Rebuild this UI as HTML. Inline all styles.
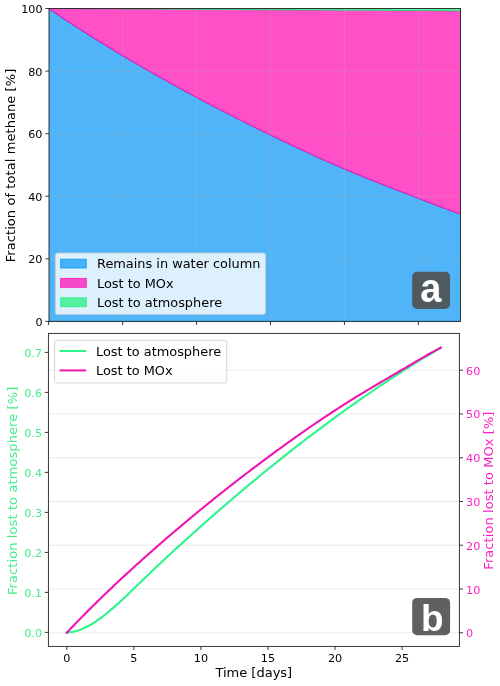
<!DOCTYPE html><html><head><meta charset="utf-8"><title>Methane fate</title><style>html,body{margin:0;padding:0;background:#fff;width:500px;height:686px;overflow:hidden}svg{display:block}text{font-family:'DejaVu Sans', 'Liberation Sans', sans-serif}</style></head><body>
<svg width="500" height="686" viewBox="0 0 500 686">
<rect x="0" y="0" width="500" height="686" fill="#fff"/>
<defs><clipPath id="ct"><rect x="49.0" y="8.5" width="411.50" height="312.90"/></clipPath></defs>
<g clip-path="url(#ct)">
<polygon fill="#0595f5" fill-opacity="0.7" stroke="#0595f5" stroke-opacity="0.7" stroke-width="1.1" stroke-linejoin="round" points="48.65,8.50 50.13,9.51 51.61,10.52 53.08,11.53 54.56,12.53 56.04,13.53 57.52,14.53 59.00,15.53 60.47,16.52 61.95,17.50 63.43,18.49 64.91,19.47 66.39,20.45 67.86,21.42 69.34,22.39 70.82,23.36 72.30,24.33 73.77,25.29 75.25,26.25 76.73,27.21 78.21,28.16 79.69,29.12 81.16,30.06 82.64,31.01 84.12,31.95 85.60,32.89 87.08,33.83 88.55,34.77 90.03,35.70 91.51,36.63 92.99,37.55 94.47,38.48 95.94,39.40 97.42,40.32 98.90,41.24 100.38,42.15 101.86,43.06 103.33,43.97 104.81,44.88 106.29,45.78 107.77,46.68 109.25,47.58 110.72,48.48 112.20,49.38 113.68,50.27 115.16,51.16 116.64,52.05 118.11,52.94 119.59,53.82 121.07,54.70 122.55,55.58 124.02,56.46 125.50,57.34 126.98,58.21 128.46,59.09 129.94,59.96 131.41,60.83 132.89,61.69 134.37,62.56 135.85,63.42 137.33,64.28 138.80,65.14 140.28,66.00 141.76,66.86 143.24,67.71 144.72,68.56 146.19,69.41 147.67,70.26 149.15,71.11 150.63,71.95 152.11,72.80 153.58,73.64 155.06,74.48 156.54,75.32 158.02,76.15 159.50,76.99 160.97,77.82 162.45,78.65 163.93,79.48 165.41,80.31 166.89,81.14 168.36,81.96 169.84,82.78 171.32,83.61 172.80,84.43 174.27,85.24 175.75,86.06 177.23,86.87 178.71,87.69 180.19,88.50 181.66,89.31 183.14,90.11 184.62,90.92 186.10,91.73 187.58,92.53 189.05,93.33 190.53,94.13 192.01,94.93 193.49,95.72 194.97,96.52 196.44,97.31 197.92,98.10 199.40,98.89 200.88,99.68 202.36,100.47 203.83,101.25 205.31,102.04 206.79,102.82 208.27,103.60 209.75,104.38 211.22,105.16 212.70,105.93 214.18,106.71 215.66,107.48 217.14,108.25 218.61,109.02 220.09,109.79 221.57,110.55 223.05,111.32 224.52,112.08 226.00,112.84 227.48,113.60 228.96,114.36 230.44,115.12 231.91,115.88 233.39,116.63 234.87,117.38 236.35,118.14 237.83,118.89 239.30,119.63 240.78,120.38 242.26,121.13 243.74,121.87 245.22,122.61 246.69,123.36 248.17,124.10 249.65,124.83 251.13,125.57 252.61,126.31 254.08,127.04 255.56,127.77 257.04,128.50 258.52,129.23 260.00,129.96 261.47,130.69 262.95,131.42 264.43,132.14 265.91,132.86 267.39,133.59 268.86,134.31 270.34,135.02 271.82,135.74 273.30,136.46 274.77,137.17 276.25,137.89 277.73,138.60 279.21,139.31 280.69,140.02 282.16,140.73 283.64,141.43 285.12,142.14 286.60,142.84 288.08,143.54 289.55,144.24 291.03,144.94 292.51,145.64 293.99,146.33 295.47,147.02 296.94,147.72 298.42,148.41 299.90,149.10 301.38,149.78 302.86,150.47 304.33,151.15 305.81,151.83 307.29,152.51 308.77,153.19 310.25,153.87 311.72,154.55 313.20,155.22 314.68,155.89 316.16,156.56 317.64,157.23 319.11,157.89 320.59,158.56 322.07,159.22 323.55,159.88 325.02,160.54 326.50,161.19 327.98,161.85 329.46,162.50 330.94,163.15 332.41,163.80 333.89,164.45 335.37,165.09 336.85,165.73 338.33,166.37 339.80,167.01 341.28,167.65 342.76,168.28 344.24,168.92 345.72,169.55 347.19,170.17 348.67,170.80 350.15,171.42 351.63,172.04 353.11,172.66 354.58,173.28 356.06,173.89 357.54,174.51 359.02,175.12 360.50,175.72 361.97,176.33 363.45,176.93 364.93,177.53 366.41,178.13 367.88,178.73 369.36,179.32 370.84,179.91 372.32,180.50 373.80,181.09 375.27,181.68 376.75,182.26 378.23,182.84 379.71,183.43 381.19,184.00 382.66,184.58 384.14,185.16 385.62,185.73 387.10,186.31 388.58,186.88 390.05,187.45 391.53,188.02 393.01,188.59 394.49,189.16 395.97,189.73 397.44,190.30 398.92,190.87 400.40,191.44 401.88,192.00 403.36,192.57 404.83,193.14 406.31,193.71 407.79,194.28 409.27,194.84 410.75,195.41 412.22,195.98 413.70,196.55 415.18,197.12 416.66,197.69 418.13,198.26 419.61,198.83 421.09,199.41 422.57,199.98 424.05,200.55 425.52,201.13 427.00,201.70 428.48,202.28 429.96,202.85 431.44,203.42 432.91,203.99 434.39,204.56 435.87,205.13 437.35,205.69 438.83,206.25 440.30,206.81 441.78,207.37 443.26,207.93 444.74,208.48 446.22,209.03 447.69,209.57 449.17,210.11 450.65,210.65 452.13,211.18 453.61,211.71 455.08,212.23 456.56,212.75 458.04,213.26 459.52,213.77 461.00,214.27 462.50,214.27 462.50,321.40 47.00,321.40"/>
<polygon fill="#ff05b0" fill-opacity="0.7" stroke="#ff05b0" stroke-opacity="0.7" stroke-width="1.1" stroke-linejoin="round" points="48.65,8.50 50.13,8.50 51.61,8.50 53.08,8.50 54.56,8.50 56.04,8.51 57.52,8.51 59.00,8.51 60.47,8.51 61.95,8.52 63.43,8.52 64.91,8.53 66.39,8.53 67.86,8.53 69.34,8.54 70.82,8.54 72.30,8.55 73.77,8.56 75.25,8.56 76.73,8.57 78.21,8.57 79.69,8.58 81.16,8.59 82.64,8.60 84.12,8.60 85.60,8.61 87.08,8.62 88.55,8.63 90.03,8.63 91.51,8.64 92.99,8.65 94.47,8.66 95.94,8.67 97.42,8.68 98.90,8.69 100.38,8.69 101.86,8.70 103.33,8.71 104.81,8.72 106.29,8.73 107.77,8.74 109.25,8.75 110.72,8.76 112.20,8.77 113.68,8.78 115.16,8.79 116.64,8.80 118.11,8.81 119.59,8.82 121.07,8.83 122.55,8.84 124.02,8.85 125.50,8.86 126.98,8.87 128.46,8.88 129.94,8.89 131.41,8.90 132.89,8.91 134.37,8.92 135.85,8.93 137.33,8.94 138.80,8.95 140.28,8.96 141.76,8.97 143.24,8.98 144.72,8.99 146.19,9.00 147.67,9.01 149.15,9.02 150.63,9.03 152.11,9.04 153.58,9.05 155.06,9.06 156.54,9.07 158.02,9.08 159.50,9.09 160.97,9.10 162.45,9.11 163.93,9.12 165.41,9.13 166.89,9.14 168.36,9.15 169.84,9.16 171.32,9.17 172.80,9.18 174.27,9.19 175.75,9.20 177.23,9.21 178.71,9.22 180.19,9.23 181.66,9.24 183.14,9.25 184.62,9.25 186.10,9.26 187.58,9.27 189.05,9.28 190.53,9.29 192.01,9.30 193.49,9.31 194.97,9.32 196.44,9.33 197.92,9.34 199.40,9.35 200.88,9.36 202.36,9.37 203.83,9.38 205.31,9.39 206.79,9.39 208.27,9.40 209.75,9.41 211.22,9.42 212.70,9.43 214.18,9.44 215.66,9.45 217.14,9.46 218.61,9.47 220.09,9.48 221.57,9.49 223.05,9.49 224.52,9.50 226.00,9.51 227.48,9.52 228.96,9.53 230.44,9.54 231.91,9.55 233.39,9.56 234.87,9.57 236.35,9.58 237.83,9.58 239.30,9.59 240.78,9.60 242.26,9.61 243.74,9.62 245.22,9.63 246.69,9.64 248.17,9.65 249.65,9.65 251.13,9.66 252.61,9.67 254.08,9.68 255.56,9.69 257.04,9.70 258.52,9.71 260.00,9.72 261.47,9.72 262.95,9.73 264.43,9.74 265.91,9.75 267.39,9.76 268.86,9.77 270.34,9.78 271.82,9.78 273.30,9.79 274.77,9.80 276.25,9.81 277.73,9.82 279.21,9.83 280.69,9.83 282.16,9.84 283.64,9.85 285.12,9.86 286.60,9.87 288.08,9.88 289.55,9.88 291.03,9.89 292.51,9.90 293.99,9.91 295.47,9.92 296.94,9.93 298.42,9.93 299.90,9.94 301.38,9.95 302.86,9.96 304.33,9.97 305.81,9.98 307.29,9.98 308.77,9.99 310.25,10.00 311.72,10.01 313.20,10.02 314.68,10.02 316.16,10.03 317.64,10.04 319.11,10.05 320.59,10.06 322.07,10.06 323.55,10.07 325.02,10.08 326.50,10.09 327.98,10.09 329.46,10.10 330.94,10.11 332.41,10.12 333.89,10.13 335.37,10.13 336.85,10.14 338.33,10.15 339.80,10.16 341.28,10.16 342.76,10.17 344.24,10.18 345.72,10.19 347.19,10.20 348.67,10.20 350.15,10.21 351.63,10.22 353.11,10.23 354.58,10.23 356.06,10.24 357.54,10.25 359.02,10.26 360.50,10.26 361.97,10.27 363.45,10.28 364.93,10.29 366.41,10.29 367.88,10.30 369.36,10.31 370.84,10.31 372.32,10.32 373.80,10.33 375.27,10.34 376.75,10.34 378.23,10.35 379.71,10.36 381.19,10.37 382.66,10.37 384.14,10.38 385.62,10.39 387.10,10.39 388.58,10.40 390.05,10.41 391.53,10.42 393.01,10.42 394.49,10.43 395.97,10.44 397.44,10.44 398.92,10.45 400.40,10.46 401.88,10.46 403.36,10.47 404.83,10.48 406.31,10.49 407.79,10.49 409.27,10.50 410.75,10.51 412.22,10.51 413.70,10.52 415.18,10.53 416.66,10.53 418.13,10.54 419.61,10.55 421.09,10.55 422.57,10.56 424.05,10.57 425.52,10.57 427.00,10.58 428.48,10.59 429.96,10.59 431.44,10.60 432.91,10.61 434.39,10.61 435.87,10.62 437.35,10.63 438.83,10.63 440.30,10.64 441.78,10.64 443.26,10.65 444.74,10.66 446.22,10.66 447.69,10.67 449.17,10.68 450.65,10.68 452.13,10.69 453.61,10.70 455.08,10.70 456.56,10.71 458.04,10.71 459.52,10.72 461.00,10.73 461.00,214.27 459.52,213.77 458.04,213.26 456.56,212.75 455.08,212.23 453.61,211.71 452.13,211.18 450.65,210.65 449.17,210.11 447.69,209.57 446.22,209.03 444.74,208.48 443.26,207.93 441.78,207.37 440.30,206.81 438.83,206.25 437.35,205.69 435.87,205.13 434.39,204.56 432.91,203.99 431.44,203.42 429.96,202.85 428.48,202.28 427.00,201.70 425.52,201.13 424.05,200.55 422.57,199.98 421.09,199.41 419.61,198.83 418.13,198.26 416.66,197.69 415.18,197.12 413.70,196.55 412.22,195.98 410.75,195.41 409.27,194.84 407.79,194.28 406.31,193.71 404.83,193.14 403.36,192.57 401.88,192.00 400.40,191.44 398.92,190.87 397.44,190.30 395.97,189.73 394.49,189.16 393.01,188.59 391.53,188.02 390.05,187.45 388.58,186.88 387.10,186.31 385.62,185.73 384.14,185.16 382.66,184.58 381.19,184.00 379.71,183.43 378.23,182.84 376.75,182.26 375.27,181.68 373.80,181.09 372.32,180.50 370.84,179.91 369.36,179.32 367.88,178.73 366.41,178.13 364.93,177.53 363.45,176.93 361.97,176.33 360.50,175.72 359.02,175.12 357.54,174.51 356.06,173.89 354.58,173.28 353.11,172.66 351.63,172.04 350.15,171.42 348.67,170.80 347.19,170.17 345.72,169.55 344.24,168.92 342.76,168.28 341.28,167.65 339.80,167.01 338.33,166.37 336.85,165.73 335.37,165.09 333.89,164.45 332.41,163.80 330.94,163.15 329.46,162.50 327.98,161.85 326.50,161.19 325.02,160.54 323.55,159.88 322.07,159.22 320.59,158.56 319.11,157.89 317.64,157.23 316.16,156.56 314.68,155.89 313.20,155.22 311.72,154.55 310.25,153.87 308.77,153.19 307.29,152.51 305.81,151.83 304.33,151.15 302.86,150.47 301.38,149.78 299.90,149.10 298.42,148.41 296.94,147.72 295.47,147.02 293.99,146.33 292.51,145.64 291.03,144.94 289.55,144.24 288.08,143.54 286.60,142.84 285.12,142.14 283.64,141.43 282.16,140.73 280.69,140.02 279.21,139.31 277.73,138.60 276.25,137.89 274.77,137.17 273.30,136.46 271.82,135.74 270.34,135.02 268.86,134.31 267.39,133.59 265.91,132.86 264.43,132.14 262.95,131.42 261.47,130.69 260.00,129.96 258.52,129.23 257.04,128.50 255.56,127.77 254.08,127.04 252.61,126.31 251.13,125.57 249.65,124.83 248.17,124.10 246.69,123.36 245.22,122.61 243.74,121.87 242.26,121.13 240.78,120.38 239.30,119.63 237.83,118.89 236.35,118.14 234.87,117.38 233.39,116.63 231.91,115.88 230.44,115.12 228.96,114.36 227.48,113.60 226.00,112.84 224.52,112.08 223.05,111.32 221.57,110.55 220.09,109.79 218.61,109.02 217.14,108.25 215.66,107.48 214.18,106.71 212.70,105.93 211.22,105.16 209.75,104.38 208.27,103.60 206.79,102.82 205.31,102.04 203.83,101.25 202.36,100.47 200.88,99.68 199.40,98.89 197.92,98.10 196.44,97.31 194.97,96.52 193.49,95.72 192.01,94.93 190.53,94.13 189.05,93.33 187.58,92.53 186.10,91.73 184.62,90.92 183.14,90.11 181.66,89.31 180.19,88.50 178.71,87.69 177.23,86.87 175.75,86.06 174.27,85.24 172.80,84.43 171.32,83.61 169.84,82.78 168.36,81.96 166.89,81.14 165.41,80.31 163.93,79.48 162.45,78.65 160.97,77.82 159.50,76.99 158.02,76.15 156.54,75.32 155.06,74.48 153.58,73.64 152.11,72.80 150.63,71.95 149.15,71.11 147.67,70.26 146.19,69.41 144.72,68.56 143.24,67.71 141.76,66.86 140.28,66.00 138.80,65.14 137.33,64.28 135.85,63.42 134.37,62.56 132.89,61.69 131.41,60.83 129.94,59.96 128.46,59.09 126.98,58.21 125.50,57.34 124.02,56.46 122.55,55.58 121.07,54.70 119.59,53.82 118.11,52.94 116.64,52.05 115.16,51.16 113.68,50.27 112.20,49.38 110.72,48.48 109.25,47.58 107.77,46.68 106.29,45.78 104.81,44.88 103.33,43.97 101.86,43.06 100.38,42.15 98.90,41.24 97.42,40.32 95.94,39.40 94.47,38.48 92.99,37.55 91.51,36.63 90.03,35.70 88.55,34.77 87.08,33.83 85.60,32.89 84.12,31.95 82.64,31.01 81.16,30.06 79.69,29.12 78.21,28.16 76.73,27.21 75.25,26.25 73.77,25.29 72.30,24.33 70.82,23.36 69.34,22.39 67.86,21.42 66.39,20.45 64.91,19.47 63.43,18.49 61.95,17.50 60.47,16.52 59.00,15.53 57.52,14.53 56.04,13.53 54.56,12.53 53.08,11.53 51.61,10.52 50.13,9.51 48.65,8.50"/>
<polygon fill="#19ef7a" fill-opacity="0.7" stroke="#19ef7a" stroke-opacity="0.7" stroke-width="1.1" stroke-linejoin="round" points="48.65,8.50 50.13,8.50 51.61,8.50 53.08,8.50 54.56,8.50 56.04,8.51 57.52,8.51 59.00,8.51 60.47,8.51 61.95,8.52 63.43,8.52 64.91,8.53 66.39,8.53 67.86,8.53 69.34,8.54 70.82,8.54 72.30,8.55 73.77,8.56 75.25,8.56 76.73,8.57 78.21,8.57 79.69,8.58 81.16,8.59 82.64,8.60 84.12,8.60 85.60,8.61 87.08,8.62 88.55,8.63 90.03,8.63 91.51,8.64 92.99,8.65 94.47,8.66 95.94,8.67 97.42,8.68 98.90,8.69 100.38,8.69 101.86,8.70 103.33,8.71 104.81,8.72 106.29,8.73 107.77,8.74 109.25,8.75 110.72,8.76 112.20,8.77 113.68,8.78 115.16,8.79 116.64,8.80 118.11,8.81 119.59,8.82 121.07,8.83 122.55,8.84 124.02,8.85 125.50,8.86 126.98,8.87 128.46,8.88 129.94,8.89 131.41,8.90 132.89,8.91 134.37,8.92 135.85,8.93 137.33,8.94 138.80,8.95 140.28,8.96 141.76,8.97 143.24,8.98 144.72,8.99 146.19,9.00 147.67,9.01 149.15,9.02 150.63,9.03 152.11,9.04 153.58,9.05 155.06,9.06 156.54,9.07 158.02,9.08 159.50,9.09 160.97,9.10 162.45,9.11 163.93,9.12 165.41,9.13 166.89,9.14 168.36,9.15 169.84,9.16 171.32,9.17 172.80,9.18 174.27,9.19 175.75,9.20 177.23,9.21 178.71,9.22 180.19,9.23 181.66,9.24 183.14,9.25 184.62,9.25 186.10,9.26 187.58,9.27 189.05,9.28 190.53,9.29 192.01,9.30 193.49,9.31 194.97,9.32 196.44,9.33 197.92,9.34 199.40,9.35 200.88,9.36 202.36,9.37 203.83,9.38 205.31,9.39 206.79,9.39 208.27,9.40 209.75,9.41 211.22,9.42 212.70,9.43 214.18,9.44 215.66,9.45 217.14,9.46 218.61,9.47 220.09,9.48 221.57,9.49 223.05,9.49 224.52,9.50 226.00,9.51 227.48,9.52 228.96,9.53 230.44,9.54 231.91,9.55 233.39,9.56 234.87,9.57 236.35,9.58 237.83,9.58 239.30,9.59 240.78,9.60 242.26,9.61 243.74,9.62 245.22,9.63 246.69,9.64 248.17,9.65 249.65,9.65 251.13,9.66 252.61,9.67 254.08,9.68 255.56,9.69 257.04,9.70 258.52,9.71 260.00,9.72 261.47,9.72 262.95,9.73 264.43,9.74 265.91,9.75 267.39,9.76 268.86,9.77 270.34,9.78 271.82,9.78 273.30,9.79 274.77,9.80 276.25,9.81 277.73,9.82 279.21,9.83 280.69,9.83 282.16,9.84 283.64,9.85 285.12,9.86 286.60,9.87 288.08,9.88 289.55,9.88 291.03,9.89 292.51,9.90 293.99,9.91 295.47,9.92 296.94,9.93 298.42,9.93 299.90,9.94 301.38,9.95 302.86,9.96 304.33,9.97 305.81,9.98 307.29,9.98 308.77,9.99 310.25,10.00 311.72,10.01 313.20,10.02 314.68,10.02 316.16,10.03 317.64,10.04 319.11,10.05 320.59,10.06 322.07,10.06 323.55,10.07 325.02,10.08 326.50,10.09 327.98,10.09 329.46,10.10 330.94,10.11 332.41,10.12 333.89,10.13 335.37,10.13 336.85,10.14 338.33,10.15 339.80,10.16 341.28,10.16 342.76,10.17 344.24,10.18 345.72,10.19 347.19,10.20 348.67,10.20 350.15,10.21 351.63,10.22 353.11,10.23 354.58,10.23 356.06,10.24 357.54,10.25 359.02,10.26 360.50,10.26 361.97,10.27 363.45,10.28 364.93,10.29 366.41,10.29 367.88,10.30 369.36,10.31 370.84,10.31 372.32,10.32 373.80,10.33 375.27,10.34 376.75,10.34 378.23,10.35 379.71,10.36 381.19,10.37 382.66,10.37 384.14,10.38 385.62,10.39 387.10,10.39 388.58,10.40 390.05,10.41 391.53,10.42 393.01,10.42 394.49,10.43 395.97,10.44 397.44,10.44 398.92,10.45 400.40,10.46 401.88,10.46 403.36,10.47 404.83,10.48 406.31,10.49 407.79,10.49 409.27,10.50 410.75,10.51 412.22,10.51 413.70,10.52 415.18,10.53 416.66,10.53 418.13,10.54 419.61,10.55 421.09,10.55 422.57,10.56 424.05,10.57 425.52,10.57 427.00,10.58 428.48,10.59 429.96,10.59 431.44,10.60 432.91,10.61 434.39,10.61 435.87,10.62 437.35,10.63 438.83,10.63 440.30,10.64 441.78,10.64 443.26,10.65 444.74,10.66 446.22,10.66 447.69,10.67 449.17,10.68 450.65,10.68 452.13,10.69 453.61,10.70 455.08,10.70 456.56,10.71 458.04,10.71 459.52,10.72 461.00,10.73 461.00,8.50 459.52,8.50 458.04,8.50 456.56,8.50 455.08,8.50 453.61,8.50 452.13,8.50 450.65,8.50 449.17,8.50 447.69,8.50 446.22,8.50 444.74,8.50 443.26,8.50 441.78,8.50 440.30,8.50 438.83,8.50 437.35,8.50 435.87,8.50 434.39,8.50 432.91,8.50 431.44,8.50 429.96,8.50 428.48,8.50 427.00,8.50 425.52,8.50 424.05,8.50 422.57,8.50 421.09,8.50 419.61,8.50 418.13,8.50 416.66,8.50 415.18,8.50 413.70,8.50 412.22,8.50 410.75,8.50 409.27,8.50 407.79,8.50 406.31,8.50 404.83,8.50 403.36,8.50 401.88,8.50 400.40,8.50 398.92,8.50 397.44,8.50 395.97,8.50 394.49,8.50 393.01,8.50 391.53,8.50 390.05,8.50 388.58,8.50 387.10,8.50 385.62,8.50 384.14,8.50 382.66,8.50 381.19,8.50 379.71,8.50 378.23,8.50 376.75,8.50 375.27,8.50 373.80,8.50 372.32,8.50 370.84,8.50 369.36,8.50 367.88,8.50 366.41,8.50 364.93,8.50 363.45,8.50 361.97,8.50 360.50,8.50 359.02,8.50 357.54,8.50 356.06,8.50 354.58,8.50 353.11,8.50 351.63,8.50 350.15,8.50 348.67,8.50 347.19,8.50 345.72,8.50 344.24,8.50 342.76,8.50 341.28,8.50 339.80,8.50 338.33,8.50 336.85,8.50 335.37,8.50 333.89,8.50 332.41,8.50 330.94,8.50 329.46,8.50 327.98,8.50 326.50,8.50 325.02,8.50 323.55,8.50 322.07,8.50 320.59,8.50 319.11,8.50 317.64,8.50 316.16,8.50 314.68,8.50 313.20,8.50 311.72,8.50 310.25,8.50 308.77,8.50 307.29,8.50 305.81,8.50 304.33,8.50 302.86,8.50 301.38,8.50 299.90,8.50 298.42,8.50 296.94,8.50 295.47,8.50 293.99,8.50 292.51,8.50 291.03,8.50 289.55,8.50 288.08,8.50 286.60,8.50 285.12,8.50 283.64,8.50 282.16,8.50 280.69,8.50 279.21,8.50 277.73,8.50 276.25,8.50 274.77,8.50 273.30,8.50 271.82,8.50 270.34,8.50 268.86,8.50 267.39,8.50 265.91,8.50 264.43,8.50 262.95,8.50 261.47,8.50 260.00,8.50 258.52,8.50 257.04,8.50 255.56,8.50 254.08,8.50 252.61,8.50 251.13,8.50 249.65,8.50 248.17,8.50 246.69,8.50 245.22,8.50 243.74,8.50 242.26,8.50 240.78,8.50 239.30,8.50 237.83,8.50 236.35,8.50 234.87,8.50 233.39,8.50 231.91,8.50 230.44,8.50 228.96,8.50 227.48,8.50 226.00,8.50 224.52,8.50 223.05,8.50 221.57,8.50 220.09,8.50 218.61,8.50 217.14,8.50 215.66,8.50 214.18,8.50 212.70,8.50 211.22,8.50 209.75,8.50 208.27,8.50 206.79,8.50 205.31,8.50 203.83,8.50 202.36,8.50 200.88,8.50 199.40,8.50 197.92,8.50 196.44,8.50 194.97,8.50 193.49,8.50 192.01,8.50 190.53,8.50 189.05,8.50 187.58,8.50 186.10,8.50 184.62,8.50 183.14,8.50 181.66,8.50 180.19,8.50 178.71,8.50 177.23,8.50 175.75,8.50 174.27,8.50 172.80,8.50 171.32,8.50 169.84,8.50 168.36,8.50 166.89,8.50 165.41,8.50 163.93,8.50 162.45,8.50 160.97,8.50 159.50,8.50 158.02,8.50 156.54,8.50 155.06,8.50 153.58,8.50 152.11,8.50 150.63,8.50 149.15,8.50 147.67,8.50 146.19,8.50 144.72,8.50 143.24,8.50 141.76,8.50 140.28,8.50 138.80,8.50 137.33,8.50 135.85,8.50 134.37,8.50 132.89,8.50 131.41,8.50 129.94,8.50 128.46,8.50 126.98,8.50 125.50,8.50 124.02,8.50 122.55,8.50 121.07,8.50 119.59,8.50 118.11,8.50 116.64,8.50 115.16,8.50 113.68,8.50 112.20,8.50 110.72,8.50 109.25,8.50 107.77,8.50 106.29,8.50 104.81,8.50 103.33,8.50 101.86,8.50 100.38,8.50 98.90,8.50 97.42,8.50 95.94,8.50 94.47,8.50 92.99,8.50 91.51,8.50 90.03,8.50 88.55,8.50 87.08,8.50 85.60,8.50 84.12,8.50 82.64,8.50 81.16,8.50 79.69,8.50 78.21,8.50 76.73,8.50 75.25,8.50 73.77,8.50 72.30,8.50 70.82,8.50 69.34,8.50 67.86,8.50 66.39,8.50 64.91,8.50 63.43,8.50 61.95,8.50 60.47,8.50 59.00,8.50 57.52,8.50 56.04,8.50 54.56,8.50 53.08,8.50 51.61,8.50 50.13,8.50 48.65,8.50"/>
<line x1="48.65" y1="8.5" x2="48.65" y2="321.4" stroke="#b0b0b0" stroke-opacity="0.3" stroke-width="0.9"/>
<line x1="122.60" y1="8.5" x2="122.60" y2="321.4" stroke="#b0b0b0" stroke-opacity="0.3" stroke-width="0.9"/>
<line x1="196.55" y1="8.5" x2="196.55" y2="321.4" stroke="#b0b0b0" stroke-opacity="0.3" stroke-width="0.9"/>
<line x1="270.50" y1="8.5" x2="270.50" y2="321.4" stroke="#b0b0b0" stroke-opacity="0.3" stroke-width="0.9"/>
<line x1="344.45" y1="8.5" x2="344.45" y2="321.4" stroke="#b0b0b0" stroke-opacity="0.3" stroke-width="0.9"/>
<line x1="418.40" y1="8.5" x2="418.40" y2="321.4" stroke="#b0b0b0" stroke-opacity="0.3" stroke-width="0.9"/>
<line x1="49.0" y1="321.40" x2="460.5" y2="321.40" stroke="#b0b0b0" stroke-opacity="0.3" stroke-width="0.9"/>
<line x1="49.0" y1="258.82" x2="460.5" y2="258.82" stroke="#b0b0b0" stroke-opacity="0.3" stroke-width="0.9"/>
<line x1="49.0" y1="196.24" x2="460.5" y2="196.24" stroke="#b0b0b0" stroke-opacity="0.3" stroke-width="0.9"/>
<line x1="49.0" y1="133.66" x2="460.5" y2="133.66" stroke="#b0b0b0" stroke-opacity="0.3" stroke-width="0.9"/>
<line x1="49.0" y1="71.08" x2="460.5" y2="71.08" stroke="#b0b0b0" stroke-opacity="0.3" stroke-width="0.9"/>
<line x1="49.0" y1="8.50" x2="460.5" y2="8.50" stroke="#b0b0b0" stroke-opacity="0.3" stroke-width="0.9"/>
</g>
<g>
<rect x="55.3" y="253.1" width="210.2" height="61.3" rx="2.5" fill="#fff" fill-opacity="0.8" stroke="#ccc" stroke-opacity="0.8" stroke-width="1"/>
<rect x="60.6" y="259.20" width="25.7" height="8.8" fill="#0595f5" fill-opacity="0.7" stroke="#0595f5" stroke-opacity="0.7" stroke-width="1.1"/>
<text x="97.0" y="268.20" font-size="12.9" fill="#000">Remains in water column</text>
<rect x="60.6" y="278.50" width="25.7" height="8.8" fill="#ff05b0" fill-opacity="0.7" stroke="#ff05b0" stroke-opacity="0.7" stroke-width="1.1"/>
<text x="97.0" y="287.50" font-size="12.9" fill="#000">Lost to MOx</text>
<rect x="60.6" y="297.80" width="25.7" height="8.8" fill="#19ef7a" fill-opacity="0.7" stroke="#19ef7a" stroke-opacity="0.7" stroke-width="1.1"/>
<text x="97.0" y="306.80" font-size="12.9" fill="#000">Lost to atmosphere</text>
</g>
<rect x="49.0" y="8.5" width="411.50" height="312.90" fill="none" stroke="#222" stroke-width="0.9"/>
<line x1="48.65" y1="321.4" x2="48.65" y2="325.00" stroke="#222" stroke-width="0.9"/>
<line x1="122.60" y1="321.4" x2="122.60" y2="325.00" stroke="#222" stroke-width="0.9"/>
<line x1="196.55" y1="321.4" x2="196.55" y2="325.00" stroke="#222" stroke-width="0.9"/>
<line x1="270.50" y1="321.4" x2="270.50" y2="325.00" stroke="#222" stroke-width="0.9"/>
<line x1="344.45" y1="321.4" x2="344.45" y2="325.00" stroke="#222" stroke-width="0.9"/>
<line x1="418.40" y1="321.4" x2="418.40" y2="325.00" stroke="#222" stroke-width="0.9"/>
<line x1="45.40" y1="321.40" x2="49.0" y2="321.40" stroke="#222" stroke-width="0.9"/>
<text x="42.5" y="325.90" font-size="11.2" text-anchor="end" fill="#000">0</text>
<line x1="45.40" y1="258.82" x2="49.0" y2="258.82" stroke="#222" stroke-width="0.9"/>
<text x="42.5" y="263.32" font-size="11.2" text-anchor="end" fill="#000">20</text>
<line x1="45.40" y1="196.24" x2="49.0" y2="196.24" stroke="#222" stroke-width="0.9"/>
<text x="42.5" y="200.74" font-size="11.2" text-anchor="end" fill="#000">40</text>
<line x1="45.40" y1="133.66" x2="49.0" y2="133.66" stroke="#222" stroke-width="0.9"/>
<text x="42.5" y="138.16" font-size="11.2" text-anchor="end" fill="#000">60</text>
<line x1="45.40" y1="71.08" x2="49.0" y2="71.08" stroke="#222" stroke-width="0.9"/>
<text x="42.5" y="75.58" font-size="11.2" text-anchor="end" fill="#000">80</text>
<line x1="45.40" y1="8.50" x2="49.0" y2="8.50" stroke="#222" stroke-width="0.9"/>
<text x="42.5" y="13.00" font-size="11.2" text-anchor="end" fill="#000">100</text>
<text transform="translate(14.7,165.5) rotate(-90)" font-size="13.0" letter-spacing="0.08" text-anchor="middle" fill="#000">Fraction of total methane [%]</text>
<rect x="412.2" y="271.8" width="37.9" height="37.2" rx="5" fill="#4f4f4f" fill-opacity="0.9"/>
<text transform="translate(430.8,302) scale(1,1.09)" x="0" y="0" font-size="38" font-weight="bold" text-anchor="middle" fill="#fff" style="font-family:'Liberation Sans',sans-serif">a</text>
<line x1="48.4" y1="632.76" x2="459.4" y2="632.76" stroke="#b0b0b0" stroke-opacity="0.3" stroke-width="0.9"/>
<line x1="48.4" y1="589.00" x2="459.4" y2="589.00" stroke="#b0b0b0" stroke-opacity="0.3" stroke-width="0.9"/>
<line x1="48.4" y1="545.24" x2="459.4" y2="545.24" stroke="#b0b0b0" stroke-opacity="0.3" stroke-width="0.9"/>
<line x1="48.4" y1="501.48" x2="459.4" y2="501.48" stroke="#b0b0b0" stroke-opacity="0.3" stroke-width="0.9"/>
<line x1="48.4" y1="457.72" x2="459.4" y2="457.72" stroke="#b0b0b0" stroke-opacity="0.3" stroke-width="0.9"/>
<line x1="48.4" y1="413.96" x2="459.4" y2="413.96" stroke="#b0b0b0" stroke-opacity="0.3" stroke-width="0.9"/>
<line x1="48.4" y1="370.20" x2="459.4" y2="370.20" stroke="#b0b0b0" stroke-opacity="0.3" stroke-width="0.9"/>
<polyline fill="none" stroke="#2df58c" stroke-width="2.1" stroke-linejoin="round" stroke-linecap="square" points="66.80,632.40 68.14,632.34 69.48,632.23 70.82,632.07 72.16,631.86 73.50,631.61 74.84,631.31 76.18,630.97 77.52,630.58 78.86,630.15 80.20,629.67 81.54,629.16 82.88,628.61 84.22,628.02 85.56,627.39 86.90,626.72 88.24,626.02 89.58,625.29 90.92,624.52 92.26,623.73 93.60,622.90 94.94,622.04 96.28,621.15 97.62,620.23 98.96,619.29 100.30,618.32 101.64,617.33 102.98,616.32 104.32,615.28 105.66,614.22 107.00,613.15 108.34,612.05 109.68,610.93 111.02,609.80 112.36,608.65 113.70,607.49 115.04,606.31 116.38,605.11 117.72,603.90 119.06,602.68 120.40,601.45 121.74,600.21 123.08,598.96 124.42,597.70 125.76,596.43 127.10,595.16 128.44,593.87 129.78,592.58 131.12,591.29 132.46,589.99 133.80,588.69 135.14,587.39 136.48,586.09 137.82,584.79 139.16,583.48 140.50,582.18 141.84,580.88 143.18,579.58 144.52,578.29 145.86,577.00 147.20,575.71 148.54,574.42 149.88,573.14 151.22,571.86 152.56,570.59 153.90,569.32 155.24,568.05 156.58,566.78 157.92,565.52 159.26,564.26 160.60,563.01 161.94,561.75 163.28,560.50 164.62,559.25 165.96,558.01 167.30,556.76 168.64,555.52 169.98,554.28 171.32,553.05 172.66,551.81 174.00,550.58 175.34,549.35 176.68,548.12 178.02,546.90 179.36,545.67 180.70,544.45 182.04,543.23 183.38,542.01 184.72,540.80 186.06,539.58 187.40,538.37 188.74,537.16 190.08,535.95 191.42,534.75 192.76,533.54 194.10,532.34 195.44,531.14 196.78,529.94 198.12,528.75 199.46,527.55 200.80,526.36 202.14,525.17 203.48,523.98 204.82,522.79 206.16,521.61 207.50,520.43 208.84,519.25 210.18,518.07 211.52,516.89 212.86,515.72 214.20,514.55 215.54,513.37 216.88,512.21 218.22,511.04 219.56,509.88 220.90,508.71 222.24,507.55 223.58,506.40 224.92,505.24 226.26,504.08 227.60,502.93 228.94,501.78 230.28,500.63 231.62,499.49 232.96,498.34 234.30,497.20 235.64,496.06 236.98,494.93 238.32,493.79 239.66,492.66 241.01,491.52 242.35,490.39 243.69,489.27 245.03,488.14 246.37,487.02 247.71,485.90 249.05,484.78 250.39,483.66 251.73,482.55 253.07,481.43 254.41,480.32 255.75,479.21 257.09,478.11 258.43,477.00 259.77,475.90 261.11,474.80 262.45,473.70 263.79,472.61 265.13,471.51 266.47,470.42 267.81,469.33 269.15,468.25 270.49,467.16 271.83,466.08 273.17,465.00 274.51,463.92 275.85,462.84 277.19,461.77 278.53,460.69 279.87,459.62 281.21,458.56 282.55,457.49 283.89,456.43 285.23,455.36 286.57,454.31 287.91,453.25 289.25,452.19 290.59,451.14 291.93,450.09 293.27,449.04 294.61,447.99 295.95,446.95 297.29,445.91 298.63,444.87 299.97,443.83 301.31,442.80 302.65,441.76 303.99,440.73 305.33,439.70 306.67,438.68 308.01,437.65 309.35,436.63 310.69,435.61 312.03,434.59 313.37,433.58 314.71,432.57 316.05,431.56 317.39,430.55 318.73,429.54 320.07,428.54 321.41,427.54 322.75,426.54 324.09,425.54 325.43,424.54 326.77,423.55 328.11,422.56 329.45,421.57 330.79,420.59 332.13,419.60 333.47,418.62 334.81,417.64 336.15,416.67 337.49,415.69 338.83,414.72 340.17,413.75 341.51,412.78 342.85,411.82 344.19,410.85 345.53,409.89 346.87,408.93 348.21,407.98 349.55,407.02 350.89,406.07 352.23,405.12 353.57,404.18 354.91,403.23 356.25,402.29 357.59,401.35 358.93,400.41 360.27,399.48 361.61,398.55 362.95,397.61 364.29,396.69 365.63,395.76 366.97,394.84 368.31,393.92 369.65,393.00 370.99,392.08 372.33,391.17 373.67,390.26 375.01,389.35 376.35,388.44 377.69,387.53 379.03,386.63 380.37,385.73 381.71,384.84 383.05,383.94 384.39,383.05 385.73,382.16 387.07,381.27 388.41,380.38 389.75,379.50 391.09,378.62 392.43,377.74 393.77,376.87 395.11,375.99 396.45,375.12 397.79,374.25 399.13,373.39 400.47,372.52 401.81,371.66 403.15,370.80 404.49,369.94 405.83,369.09 407.17,368.24 408.51,367.39 409.85,366.54 411.19,365.70 412.53,364.86 413.87,364.02 415.21,363.18 416.55,362.35 417.89,361.51 419.23,360.68 420.57,359.86 421.91,359.03 423.25,358.21 424.59,357.39 425.93,356.58 427.27,355.77 428.61,354.96 429.95,354.15 431.29,353.34 432.63,352.54 433.97,351.74 435.31,350.94 436.65,350.15 437.99,349.36 439.33,348.57 440.67,347.79"/>
<polyline fill="none" stroke="#f014b4" stroke-width="2.1" stroke-linejoin="round" stroke-linecap="square" points="66.80,632.70 68.14,631.28 69.48,629.87 70.82,628.46 72.16,627.06 73.50,625.66 74.84,624.27 76.18,622.88 77.52,621.50 78.86,620.12 80.20,618.75 81.54,617.38 82.88,616.02 84.22,614.66 85.56,613.30 86.90,611.96 88.24,610.61 89.58,609.27 90.92,607.94 92.26,606.60 93.60,605.28 94.94,603.96 96.28,602.64 97.62,601.32 98.96,600.01 100.30,598.71 101.64,597.41 102.98,596.11 104.32,594.82 105.66,593.53 107.00,592.24 108.34,590.96 109.68,589.68 111.02,588.41 112.36,587.14 113.70,585.87 115.04,584.61 116.38,583.35 117.72,582.09 119.06,580.84 120.40,579.59 121.74,578.34 123.08,577.10 124.42,575.86 125.76,574.62 127.10,573.39 128.44,572.16 129.78,570.93 131.12,569.71 132.46,568.49 133.80,567.27 135.14,566.05 136.48,564.84 137.82,563.63 139.16,562.42 140.50,561.22 141.84,560.02 143.18,558.82 144.52,557.62 145.86,556.43 147.20,555.24 148.54,554.05 149.88,552.86 151.22,551.68 152.56,550.49 153.90,549.31 155.24,548.14 156.58,546.96 157.92,545.79 159.26,544.62 160.60,543.46 161.94,542.29 163.28,541.13 164.62,539.97 165.96,538.81 167.30,537.66 168.64,536.50 169.98,535.35 171.32,534.21 172.66,533.06 174.00,531.92 175.34,530.78 176.68,529.64 178.02,528.50 179.36,527.37 180.70,526.24 182.04,525.11 183.38,523.98 184.72,522.86 186.06,521.74 187.40,520.62 188.74,519.50 190.08,518.38 191.42,517.27 192.76,516.16 194.10,515.05 195.44,513.94 196.78,512.84 198.12,511.74 199.46,510.64 200.80,509.54 202.14,508.45 203.48,507.35 204.82,506.26 206.16,505.18 207.50,504.09 208.84,503.01 210.18,501.92 211.52,500.84 212.86,499.77 214.20,498.69 215.54,497.62 216.88,496.55 218.22,495.48 219.56,494.41 220.90,493.35 222.24,492.29 223.58,491.23 224.92,490.17 226.26,489.11 227.60,488.06 228.94,487.00 230.28,485.96 231.62,484.91 232.96,483.86 234.30,482.82 235.64,481.78 236.98,480.74 238.32,479.70 239.66,478.66 241.01,477.63 242.35,476.60 243.69,475.57 245.03,474.54 246.37,473.52 247.71,472.49 249.05,471.47 250.39,470.45 251.73,469.43 253.07,468.42 254.41,467.41 255.75,466.39 257.09,465.38 258.43,464.38 259.77,463.37 261.11,462.37 262.45,461.36 263.79,460.36 265.13,459.37 266.47,458.37 267.81,457.38 269.15,456.38 270.49,455.39 271.83,454.40 273.17,453.42 274.51,452.43 275.85,451.45 277.19,450.47 278.53,449.49 279.87,448.51 281.21,447.54 282.55,446.57 283.89,445.60 285.23,444.63 286.57,443.66 287.91,442.70 289.25,441.74 290.59,440.78 291.93,439.82 293.27,438.86 294.61,437.91 295.95,436.96 297.29,436.01 298.63,435.07 299.97,434.12 301.31,433.18 302.65,432.24 303.99,431.31 305.33,430.37 306.67,429.44 308.01,428.51 309.35,427.59 310.69,426.67 312.03,425.74 313.37,424.83 314.71,423.91 316.05,423.00 317.39,422.09 318.73,421.18 320.07,420.27 321.41,419.37 322.75,418.47 324.09,417.57 325.43,416.68 326.77,415.79 328.11,414.90 329.45,414.01 330.79,413.13 332.13,412.25 333.47,411.37 334.81,410.50 336.15,409.63 337.49,408.76 338.83,407.90 340.17,407.03 341.51,406.17 342.85,405.32 344.19,404.47 345.53,403.62 346.87,402.77 348.21,401.93 349.55,401.09 350.89,400.25 352.23,399.41 353.57,398.58 354.91,397.76 356.25,396.93 357.59,396.11 358.93,395.29 360.27,394.48 361.61,393.66 362.95,392.85 364.29,392.05 365.63,391.24 366.97,390.44 368.31,389.64 369.65,388.84 370.99,388.04 372.33,387.25 373.67,386.46 375.01,385.66 376.35,384.87 377.69,384.08 379.03,383.29 380.37,382.51 381.71,381.72 383.05,380.93 384.39,380.15 385.73,379.36 387.07,378.58 388.41,377.79 389.75,377.01 391.09,376.22 392.43,375.44 393.77,374.65 395.11,373.87 396.45,373.08 397.79,372.29 399.13,371.50 400.47,370.72 401.81,369.92 403.15,369.13 404.49,368.34 405.83,367.55 407.17,366.75 408.51,365.96 409.85,365.16 411.19,364.37 412.53,363.58 413.87,362.79 415.21,362.00 416.55,361.21 417.89,360.43 419.23,359.65 420.57,358.87 421.91,358.09 423.25,357.32 424.59,356.55 425.93,355.79 427.27,355.03 428.61,354.28 429.95,353.53 431.29,352.79 432.63,352.05 433.97,351.32 435.31,350.60 436.65,349.88 437.99,349.17 439.33,348.47 440.67,347.78"/>
<rect x="54.6" y="340.3" width="172.2" height="42.6" rx="2.5" fill="#fff" fill-opacity="0.8" stroke="#ccc" stroke-opacity="0.8" stroke-width="1"/>
<line x1="59.5" y1="351.00" x2="86.1" y2="351.00" stroke="#2df58c" stroke-width="2"/>
<text x="96.0" y="355.60" font-size="12.9" fill="#000">Lost to atmosphere</text>
<line x1="59.5" y1="370.40" x2="86.1" y2="370.40" stroke="#f014b4" stroke-width="2"/>
<text x="96.0" y="375.00" font-size="12.9" fill="#000">Lost to MOx</text>
<rect x="48.4" y="333.4" width="411.00" height="313.00" fill="none" stroke="#222" stroke-width="0.9"/>
<line x1="66.80" y1="646.4" x2="66.80" y2="650.00" stroke="#222" stroke-width="0.9"/>
<text x="66.80" y="662.0" font-size="11.2" text-anchor="middle" fill="#000">0</text>
<line x1="133.85" y1="646.4" x2="133.85" y2="650.00" stroke="#222" stroke-width="0.9"/>
<text x="133.85" y="662.0" font-size="11.2" text-anchor="middle" fill="#000">5</text>
<line x1="200.90" y1="646.4" x2="200.90" y2="650.00" stroke="#222" stroke-width="0.9"/>
<text x="200.90" y="662.0" font-size="11.2" text-anchor="middle" fill="#000">10</text>
<line x1="267.95" y1="646.4" x2="267.95" y2="650.00" stroke="#222" stroke-width="0.9"/>
<text x="267.95" y="662.0" font-size="11.2" text-anchor="middle" fill="#000">15</text>
<line x1="335.00" y1="646.4" x2="335.00" y2="650.00" stroke="#222" stroke-width="0.9"/>
<text x="335.00" y="662.0" font-size="11.2" text-anchor="middle" fill="#000">20</text>
<line x1="402.05" y1="646.4" x2="402.05" y2="650.00" stroke="#222" stroke-width="0.9"/>
<text x="402.05" y="662.0" font-size="11.2" text-anchor="middle" fill="#000">25</text>
<line x1="44.80" y1="632.40" x2="48.4" y2="632.40" stroke="#222" stroke-width="0.9"/>
<text x="42.0" y="636.90" font-size="11.2" text-anchor="end" fill="#44ee88">0.0</text>
<line x1="44.80" y1="592.40" x2="48.4" y2="592.40" stroke="#222" stroke-width="0.9"/>
<text x="42.0" y="596.90" font-size="11.2" text-anchor="end" fill="#44ee88">0.1</text>
<line x1="44.80" y1="552.40" x2="48.4" y2="552.40" stroke="#222" stroke-width="0.9"/>
<text x="42.0" y="556.90" font-size="11.2" text-anchor="end" fill="#44ee88">0.2</text>
<line x1="44.80" y1="512.40" x2="48.4" y2="512.40" stroke="#222" stroke-width="0.9"/>
<text x="42.0" y="516.90" font-size="11.2" text-anchor="end" fill="#44ee88">0.3</text>
<line x1="44.80" y1="472.40" x2="48.4" y2="472.40" stroke="#222" stroke-width="0.9"/>
<text x="42.0" y="476.90" font-size="11.2" text-anchor="end" fill="#44ee88">0.4</text>
<line x1="44.80" y1="432.40" x2="48.4" y2="432.40" stroke="#222" stroke-width="0.9"/>
<text x="42.0" y="436.90" font-size="11.2" text-anchor="end" fill="#44ee88">0.5</text>
<line x1="44.80" y1="392.40" x2="48.4" y2="392.40" stroke="#222" stroke-width="0.9"/>
<text x="42.0" y="396.90" font-size="11.2" text-anchor="end" fill="#44ee88">0.6</text>
<line x1="44.80" y1="352.40" x2="48.4" y2="352.40" stroke="#222" stroke-width="0.9"/>
<text x="42.0" y="356.90" font-size="11.2" text-anchor="end" fill="#44ee88">0.7</text>
<line x1="459.4" y1="632.76" x2="463.00" y2="632.76" stroke="#222" stroke-width="0.9"/>
<text x="466.1" y="637.26" font-size="11.2" fill="#ff1ec6">0</text>
<line x1="459.4" y1="589.00" x2="463.00" y2="589.00" stroke="#222" stroke-width="0.9"/>
<text x="466.1" y="593.50" font-size="11.2" fill="#ff1ec6">10</text>
<line x1="459.4" y1="545.24" x2="463.00" y2="545.24" stroke="#222" stroke-width="0.9"/>
<text x="466.1" y="549.74" font-size="11.2" fill="#ff1ec6">20</text>
<line x1="459.4" y1="501.48" x2="463.00" y2="501.48" stroke="#222" stroke-width="0.9"/>
<text x="466.1" y="505.98" font-size="11.2" fill="#ff1ec6">30</text>
<line x1="459.4" y1="457.72" x2="463.00" y2="457.72" stroke="#222" stroke-width="0.9"/>
<text x="466.1" y="462.22" font-size="11.2" fill="#ff1ec6">40</text>
<line x1="459.4" y1="413.96" x2="463.00" y2="413.96" stroke="#222" stroke-width="0.9"/>
<text x="466.1" y="418.46" font-size="11.2" fill="#ff1ec6">50</text>
<line x1="459.4" y1="370.20" x2="463.00" y2="370.20" stroke="#222" stroke-width="0.9"/>
<text x="466.1" y="374.70" font-size="11.2" fill="#ff1ec6">60</text>
<text x="253.8" y="676.9" font-size="13.0" letter-spacing="0" text-anchor="middle" fill="#000">Time [days]</text>
<text transform="translate(17.1,490.85) rotate(-90)" font-size="13.0" letter-spacing="0.1" text-anchor="middle" fill="#44ee88">Fraction lost to atmosphere [%]</text>
<text transform="translate(493.0,490.6) rotate(-90)" font-size="13.0" letter-spacing="0.07" text-anchor="middle" fill="#ff1ec6">Fraction lost to MOx [%]</text>
<rect x="412.2" y="597.9" width="37.9" height="37.4" rx="5" fill="#4f4f4f" fill-opacity="0.9"/>
<text x="432.2" y="631" font-size="37" font-weight="bold" text-anchor="middle" fill="#fff" style="font-family:'Liberation Sans',sans-serif">b</text>
</svg></body></html>
